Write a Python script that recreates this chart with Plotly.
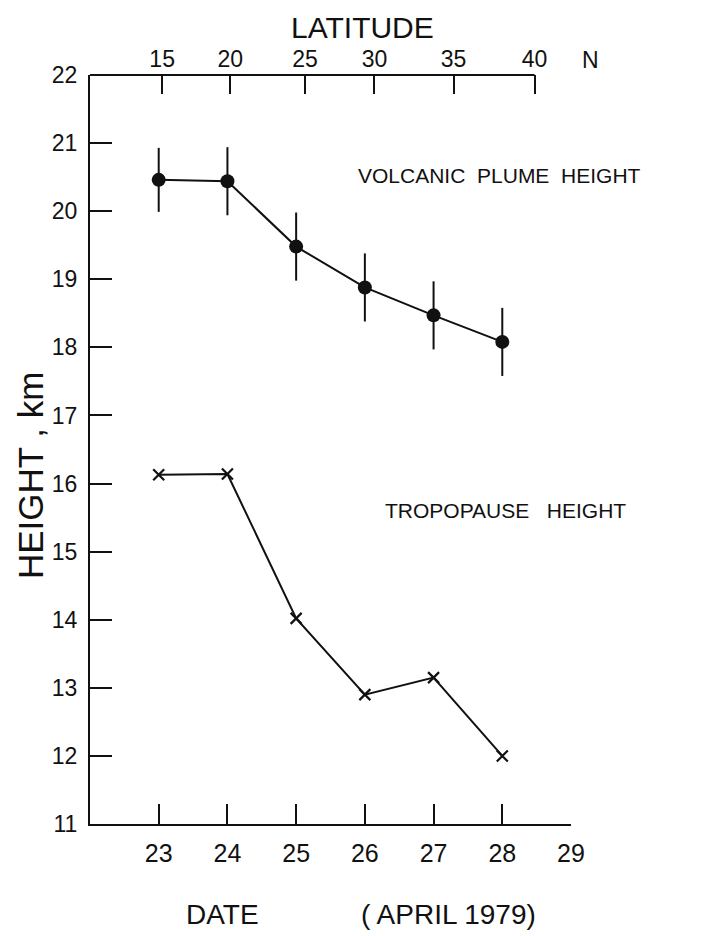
import plotly.graph_objects as go

# ---- data ----
dates = [23, 24, 25, 26, 27, 28]
plume_height = [20.46, 20.44, 19.48, 18.88, 18.47, 18.08]
plume_err = [0.47, 0.5, 0.5, 0.5, 0.5, 0.5]
tropopause_height = [16.13, 16.14, 14.02, 12.90, 13.15, 12.00]

date_ticks = [23, 24, 25, 26, 27, 28, 29]
height_ticks = [11, 12, 13, 14, 15, 16, 17, 18, 19, 20, 21, 22]
lat_labels = ["15", "20", "25", "30", "35", "40"]
lat_pos_in_date = [23.05, 24.04, 25.13, 26.14, 27.29, 28.47]

X_RANGE = [22, 29]
Y_RANGE = [11, 22]

# page body has an 8px margin; figure sized to fit the window
OFF = 8
W, H = 701, 928
ML, MR, MT, MB = 82, 138, 67, 112
PW, PH = W - ML - MR, H - MT - MB

def px_x(px):  # px in window coordinates
    return (px - OFF - ML) / PW

def px_y(py):
    return (H - MB - (py - OFF)) / PH

FONT = "Liberation Sans"
BLACK = "#111111"

fig = go.Figure()

fig.add_trace(go.Scatter(
    x=dates, y=tropopause_height, mode="lines+markers",
    line=dict(color=BLACK, width=2),
    marker=dict(symbol="x-thin", size=11, line=dict(color=BLACK, width=2.2)),
    showlegend=False, cliponaxis=False,
))
fig.add_trace(go.Scatter(
    x=dates, y=plume_height, mode="lines+markers",
    line=dict(color=BLACK, width=2),
    marker=dict(symbol="circle", size=14, color=BLACK),
    error_y=dict(type="data", array=plume_err, visible=True,
                 color=BLACK, thickness=2, width=0),
    showlegend=False, cliponaxis=False,
))

# top latitude axis line (ends at the last latitude tick)
fig.add_shape(type="line", xref="x", yref="paper",
              x0=X_RANGE[0], x1=lat_pos_in_date[-1], y0=1, y1=1,
              line=dict(color=BLACK, width=2))

fig.update_layout(
    width=W, height=H,
    margin=dict(l=ML, r=MR, t=MT, b=MB),
    paper_bgcolor="white", plot_bgcolor="white",
    font=dict(family=FONT, color=BLACK),
    xaxis=dict(
        range=X_RANGE, tickvals=date_ticks, ticktext=[str(d) for d in date_ticks],
        ticks="inside", ticklen=20, tickwidth=2, tickcolor=BLACK,
        showline=True, linewidth=2, linecolor=BLACK,
        showgrid=False, zeroline=False,
        tickfont=dict(size=25, family=FONT), ticklabelstandoff=6,
    ),
    xaxis2=dict(
        overlaying="x", side="top", anchor="y",
        range=X_RANGE, tickvals=lat_pos_in_date, ticktext=lat_labels,
        ticks="inside", ticklen=19, tickwidth=2, tickcolor=BLACK,
        showline=False, showgrid=False, zeroline=False,
        tickfont=dict(size=23, family=FONT), ticklabelstandoff=2,
    ),
    yaxis=dict(
        range=Y_RANGE, tickvals=height_ticks, ticktext=[str(h) for h in height_ticks],
        ticks="inside", ticklen=22, tickwidth=2, tickcolor=BLACK,
        showline=True, linewidth=2, linecolor=BLACK,
        showgrid=False, zeroline=False,
        tickfont=dict(size=23, family=FONT), ticklabelstandoff=6,
    ),
)

# invisible anchor trace for the top axis so it is drawn
fig.add_trace(go.Scatter(x=[X_RANGE[0]], y=[Y_RANGE[0]], xaxis="x2", yaxis="y",
                         mode="markers", marker=dict(opacity=0),
                         showlegend=False, hoverinfo="skip"))

annos = [
    dict(text="LATITUDE", x=px_x(362), y=px_y(28), size=30),
    dict(text="N", x=px_x(590), y=px_y(60), size=23),
    dict(text="VOLCANIC  PLUME  HEIGHT", x=px_x(499), y=px_y(176), size=21),
    dict(text="TROPOPAUSE   HEIGHT", x=px_x(505), y=px_y(510), size=21),
    dict(text="DATE", x=px_x(222), y=px_y(914), size=28),
    dict(text="( APRIL 1979)", x=px_x(448), y=px_y(914), size=28),
]
for a in annos:
    fig.add_annotation(text=a["text"], x=a["x"], y=a["y"], xref="paper", yref="paper",
                       showarrow=False, xanchor="center", yanchor="middle",
                       font=dict(size=a["size"], family=FONT, color=BLACK))

fig.add_annotation(text="HEIGHT , km", x=px_x(30), y=px_y(476), xref="paper", yref="paper",
                   showarrow=False, textangle=-90, xanchor="center", yanchor="middle",
                   font=dict(size=35, family=FONT, color=BLACK))

fig.write_html("out.html")
